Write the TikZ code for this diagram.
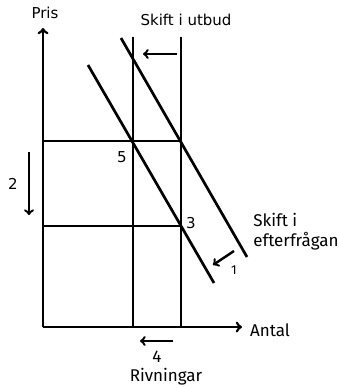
\documentclass[tikz,border=0pt]{standalone}
\usepackage{fontspec}
\setmainfont{DejaVu Sans}
\newfontfamily\lblfont{Fira Sans}
\usetikzlibrary{arrows, positioning, calc}

\begin{document}
\begin{tikzpicture}[x=1pt, y=-1pt, line width=2.7pt,
    ln/.style={draw, line cap=butt},
    shiftarrow/.style={->, line width=2.4pt},
    toplbl/.style={font=\fontsize{15}{18}\selectfont, inner sep=0pt},
    botlbl/.style={font=\lblfont\fontsize{17}{20}\selectfont, inner sep=0pt}]
    \useasboundingbox (0,0) rectangle (338,388);

    % axes
    \coordinate (O) at (43,327);
    \coordinate (ytop) at (43,28);
    \coordinate (xend) at (242,327);
    \draw [->] (O) -- (ytop);
    \draw [->] (O) -- (xend);

    % supply (vertical) lines
    \coordinate (s1t) at (133,37); \coordinate (s1b) at (133,327);
    \coordinate (s2t) at (181,37); \coordinate (s2b) at (181,327);
    \draw [ln] (s1t) -- (s1b);
    \draw [ln] (s2t) -- (s2b);

    % price levels
    \coordinate (h1l) at (43,141); \coordinate (h1r) at (181,141);
    \coordinate (h2l) at (43,226); \coordinate (h2r) at (181,226);
    \draw [ln] (h1l) -- (h1r);
    \draw [ln] (h2l) -- (h2r);

    % demand lines
    \coordinate (d1a) at (121,38); \coordinate (d1b) at (247,257);
    \coordinate (d2a) at (88,65);  \coordinate (d2b) at (214,283);
    \draw [ln] (d1a) -- (d1b);
    \draw [ln] (d2a) -- (d2b);

    % labels
    \node (pris) at (45,13) [toplbl] {Pris};
    \node (utbud) at (186,20) [toplbl] {Skift i utbud};
    \node (p5) at (122,157) [toplbl] {5};
    \node (p3) at (191,223) [toplbl] {3};
    \node (p2) at (13,184) [toplbl] {2};
    \node (efter) at (252,232) [botlbl, anchor=west, align=left] {Skift i\\efterfrågan};
    \node (p1) at (234,270) [botlbl, font=\lblfont\fontsize{13}{15}\selectfont] {1};
    \node (antal) at (270,330) [botlbl] {Antal};
    \node (p4) at (157,357) [botlbl] {4};
    \node (riv) at (166,377) [botlbl] {Rivningar};

    % shift arrows
    \coordinate (a1s) at (177,54);  \coordinate (a1e) at (143,54);
    \coordinate (a2s) at (29,152);  \coordinate (a2e) at (29,215);
    \coordinate (a3s) at (234,251); \coordinate (a3e) at (213,265);
    \coordinate (a4s) at (173,341); \coordinate (a4e) at (140,341);
    \draw [shiftarrow] (a1s) -- (a1e);
    \draw [shiftarrow] (a2s) -- (a2e);
    \draw [shiftarrow] (a3s) -- (a3e);
    \draw [shiftarrow] (a4s) -- (a4e);
\end{tikzpicture}
\end{document}
